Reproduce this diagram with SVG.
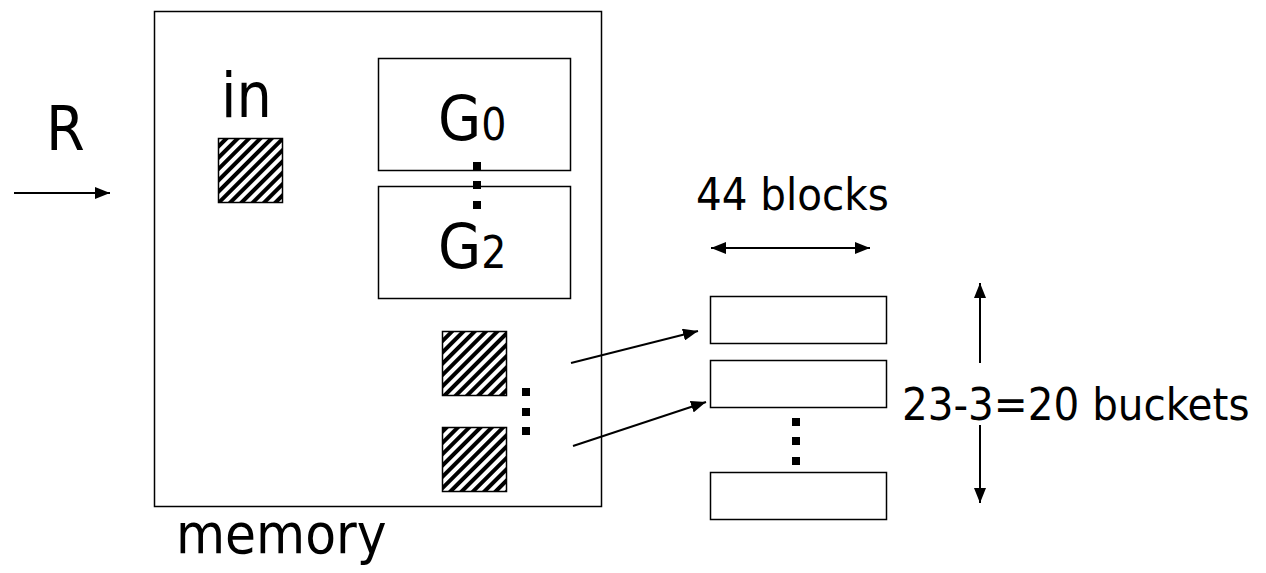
<svg xmlns="http://www.w3.org/2000/svg" width="1266" height="573" viewBox="0 0 1266 573">
<style>
.box{fill:#fff;stroke:#000;stroke-width:1.5}
.hatch{fill:url(#hatch);stroke:#000;stroke-width:1.5}
.t{font-family:"DejaVu Sans","Verdana",sans-serif;font-stretch:condensed;fill:#000}
.big{font-size:62px}
.mem{font-size:56px}
.mid{font-size:45px}
.sub{font-size:44px}
.ln{stroke:#000;stroke-width:2;fill:none}
.dot{fill:#000}
</style>
<defs>
<pattern id="hatch" width="8" height="8" patternUnits="userSpaceOnUse" patternTransform="rotate(45)">
<rect width="8" height="8" fill="#fff"/>
<rect width="4" height="8" fill="#000"/>
</pattern>
<marker id="ah" markerWidth="15" markerHeight="12" refX="15" refY="6" orient="auto" markerUnits="userSpaceOnUse">
<path d="M0,0 L15,6 L0,12 Z" fill="#000"/>
</marker>
<marker id="ahs" markerWidth="15" markerHeight="12" refX="0" refY="6" orient="auto" markerUnits="userSpaceOnUse">
<path d="M15,0 L0,6 L15,12 Z" fill="#000"/>
</marker>
</defs>

<g id="memory">
<rect class="box" x="154.5" y="11.5" width="447" height="495"/>
<text class="t mem" x="176" y="553">memory</text>
</g>

<g id="R-label">
<text class="t big" x="46" y="150">R</text>
</g>

<g id="in-buffer">
<text class="t big" x="221" y="117">in</text>
<rect class="hatch" x="218.5" y="138.5" width="64" height="64"/>
</g>

<g id="G0">
<rect class="box" x="378.5" y="58.5" width="192" height="112"/>
<text class="t big" x="438" y="140">G<tspan class="sub">0</tspan></text>
</g>

<g id="G2">
<rect class="box" x="378.5" y="186.5" width="192" height="112"/>
<text class="t big" x="438" y="268">G<tspan class="sub">2</tspan></text>
</g>

<g id="G-dots">
<rect class="dot" x="473" y="162" width="8" height="8"/>
<rect class="dot" x="473" y="181" width="8" height="8"/>
<rect class="dot" x="473" y="201" width="8" height="8"/>
</g>

<g id="out-buffer-1">
<rect class="hatch" x="442.5" y="331.5" width="64" height="64"/>
</g>
<g id="out-buffer-2">
<rect class="hatch" x="442.5" y="427.5" width="64" height="64"/>
</g>
<g id="out-dots">
<rect class="dot" x="522" y="388" width="8" height="8"/>
<rect class="dot" x="522" y="408" width="8" height="8"/>
<rect class="dot" x="522" y="427" width="8" height="8"/>
</g>

<g id="bucket-1">
<rect class="box" x="710.5" y="296.5" width="176" height="47"/>
</g>
<g id="bucket-2">
<rect class="box" x="710.5" y="360.5" width="176" height="47"/>
</g>
<g id="bucket-n">
<rect class="box" x="710.5" y="472.5" width="176" height="47"/>
</g>
<g id="bucket-dots">
<rect class="dot" x="792" y="418" width="8" height="8"/>
<rect class="dot" x="792" y="437" width="8" height="8"/>
<rect class="dot" x="792" y="457" width="8" height="8"/>
</g>

<g id="width-label">
<text class="t mid" x="696" y="210">44 blocks</text>
</g>
<g id="count-label">
<text class="t mid" x="902" y="420">23-3=20 buckets</text>
</g>

<g id="connectors">
<line class="ln" x1="14" y1="193" x2="110" y2="193" marker-end="url(#ah)"/>
<line class="ln" x1="571" y1="363" x2="698" y2="331" marker-end="url(#ah)"/>
<line class="ln" x1="573" y1="446" x2="706" y2="402" marker-end="url(#ah)"/>
<line class="ln" x1="711" y1="248" x2="870" y2="248" marker-start="url(#ahs)" marker-end="url(#ah)"/>
<line class="ln" x1="980" y1="363" x2="980" y2="283" marker-end="url(#ah)"/>
<line class="ln" x1="980" y1="425" x2="980" y2="503" marker-end="url(#ah)"/>
</g>
</svg>
